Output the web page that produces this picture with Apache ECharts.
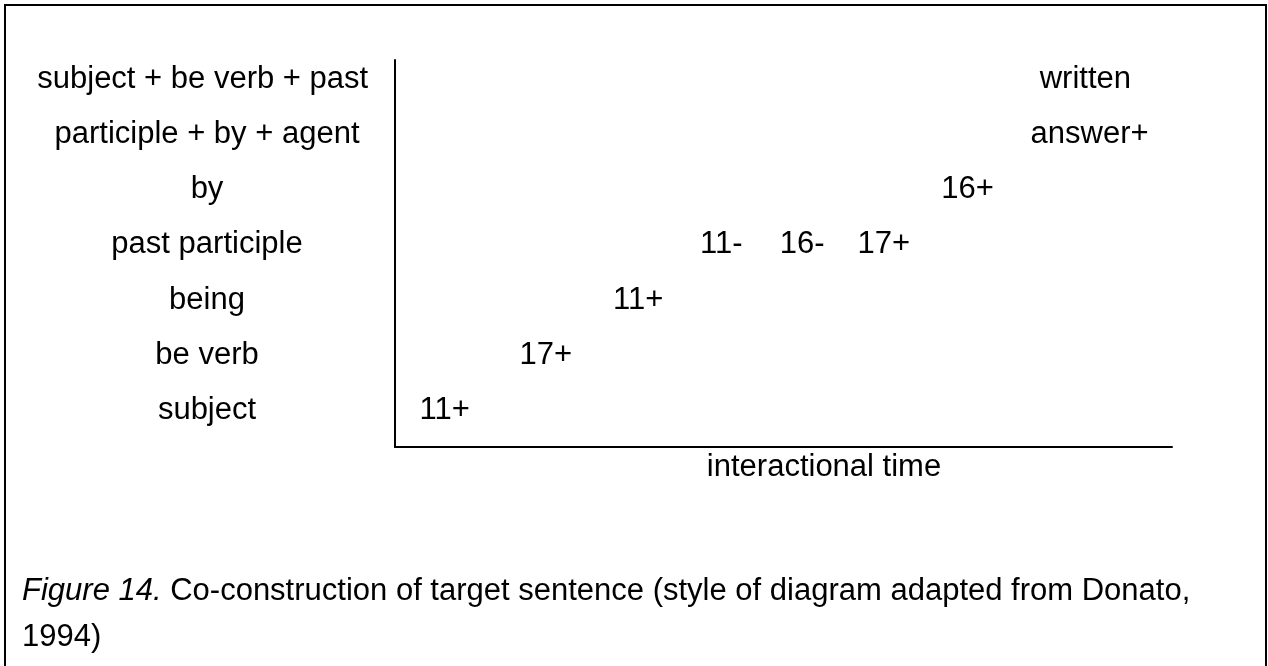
<!DOCTYPE html>
<html>
<head>
<meta charset="utf-8">
<script src="https://cdn.jsdelivr.net/npm/echarts@6/dist/echarts.min.js"></script>
<style>
  html, body { margin: 0; padding: 0; background: #fff; }
  #chart { width: 1268px; height: 666px; }
</style>
</head>
<body>
<div id="chart"></div>
<script>
// Row (level) labels of the vertical axis, bottom to top, and their levels
const rowLabels = ['subject', 'be verb', 'being', 'past participle', 'by',
  'subject + be verb + past participle + by + agent'];
const rowLevels = [0, 1, 2, 3, 4, 5.5];

// Contributions along interactional time
const pointLabels = ['11+', '17+', '11+', '11-', '16-', '17+', '16+', 'written answer+'];
const pointTimes  = [6.4, 19.4, 31.3, 42.0, 52.4, 62.9, 73.7, 89.4];
const pointLevels = [0, 1, 2, 3, 3, 3, 4, 5.5];

const xAxisName = 'interactional time';
const captionItalic = 'Figure 14.';
const captionLine1 = ' Co-construction of target sentence (style of diagram adapted from Donato,';
const captionLine2 = '1994)';

const FONT = '"Liberation Sans", Arial, sans-serif';
const FS = 31;
const ROW = 55.2;

const chart = echarts.init(document.getElementById('chart'), null, { renderer: 'canvas' });

const option = {
  backgroundColor: '#ffffff',
  animation: false,
  textStyle: { fontFamily: FONT, color: '#000' },
  graphic: [{
    type: 'rect',
    shape: { x: 5, y: 5, width: 1261, height: 720 },
    style: { fill: 'none', stroke: '#000', lineWidth: 2 },
    silent: true
  }],
  title: {
    left: 17,
    top: 563,
    text: '{i|' + captionItalic + '}{n|' + captionLine1 + '}\n{n|' + captionLine2 + '}',
    textStyle: {
      fontWeight: 'normal',
      rich: {
        i: { fontFamily: FONT, fontSize: FS, fontStyle: 'italic', fontWeight: 'normal', color: '#000', lineHeight: 46 },
        n: { fontFamily: FONT, fontSize: FS, fontWeight: 'normal', color: '#000', lineHeight: 46 }
      }
    }
  },
  grid: {
    left: 395, top: 60, width: 777, height: 387,
    containLabel: false,
    outerBoundsMode: 'none'
  },
  xAxis: {
    type: 'value',
    min: 0, max: 100,
    name: xAxisName,
    nameLocation: 'middle',
    nameGap: 5,
    nameTextStyle: { fontFamily: FONT, fontSize: FS, color: '#000', padding: [0, 0, 0, 81] },
    axisLine: { show: true, onZero: false, lineStyle: { color: '#000', width: 2 } },
    axisTick: { show: false },
    axisLabel: { show: false },
    splitLine: { show: false }
  },
  yAxis: {
    type: 'value',
    min: -0.66, max: 6.35,
    axisLine: { show: true, onZero: false, lineStyle: { color: '#000', width: 2 } },
    axisTick: { show: false },
    splitLine: { show: false },
    axisLabel: {
      show: true,
      customValues: rowLevels,
      formatter: function (v) {
        const i = rowLevels.indexOf(v);
        return i >= 0 ? rowLabels[i] : '';
      },
      align: 'center',
      margin: 188,
      width: 360,
      overflow: 'break',
      lineHeight: ROW,
      fontFamily: FONT,
      fontSize: FS,
      color: '#000',
      showMinLabel: true,
      showMaxLabel: true,
      hideOverlap: false
    }
  },
  series: [{
    type: 'scatter',
    symbolSize: 0,
    silent: true,
    itemStyle: { opacity: 1 },
    data: pointTimes.map(function (t, i) {
      return { name: pointLabels[i], value: [t, pointLevels[i]] };
    }),
    label: {
      show: true,
      position: 'inside',
      formatter: '{b}',
      align: 'center',
      verticalAlign: 'middle',
      width: 150,
      overflow: 'break',
      lineHeight: ROW,
      fontFamily: FONT,
      fontSize: FS,
      color: '#000',
      opacity: 1
    }
  }]
};

chart.setOption(option);
</script>
</body>
</html>
